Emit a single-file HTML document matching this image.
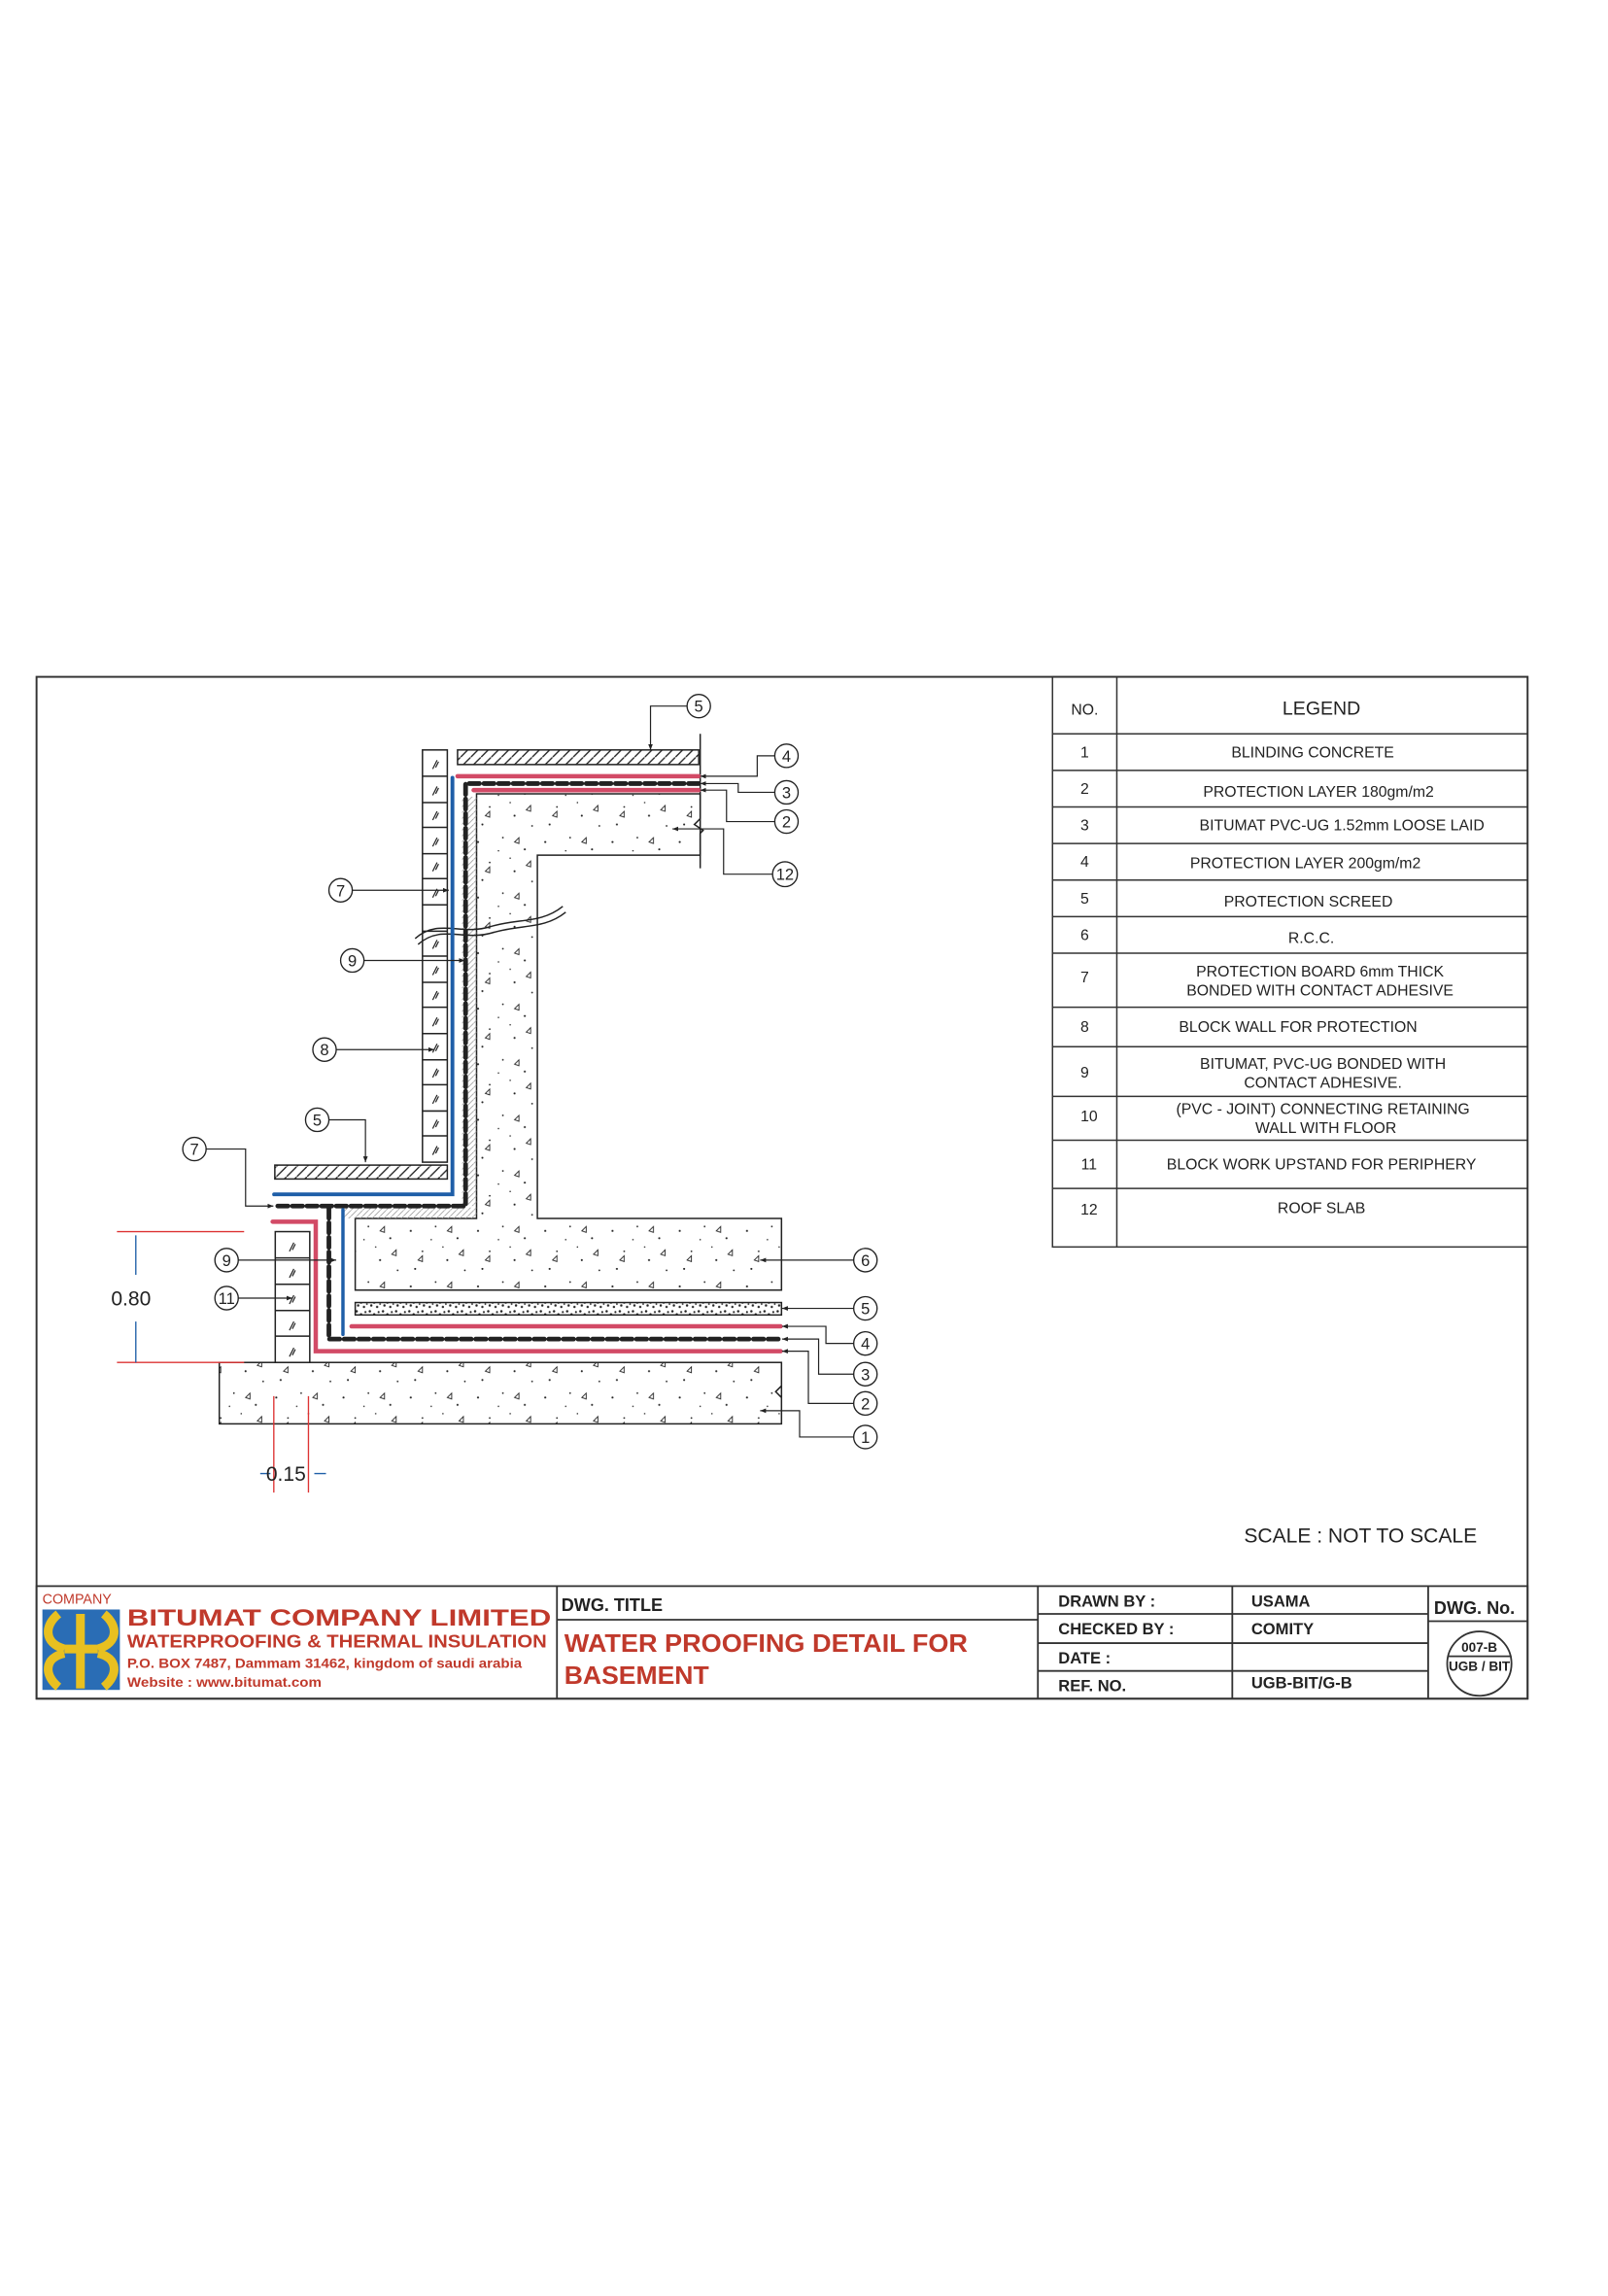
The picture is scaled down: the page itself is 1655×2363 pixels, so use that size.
<!DOCTYPE html>
<html><head><meta charset="utf-8"><style>
html,body{margin:0;padding:0;background:#fff;}
svg{display:block;}
text{font-family:"Liberation Sans",sans-serif;}
</style></head><body>
<svg width="1655" height="2363" viewBox="0 0 1100 1570.6" xmlns="http://www.w3.org/2000/svg">
<defs>
<pattern id="conc" width="46" height="38" patternUnits="userSpaceOnUse">
<circle cx="5" cy="6" r="0.7" fill="#222"/><circle cx="22" cy="3" r="0.6" fill="#222"/><circle cx="37" cy="11" r="0.7" fill="#222"/>
<circle cx="13" cy="20" r="0.6" fill="#222"/><circle cx="30" cy="26" r="0.7" fill="#222"/><circle cx="42" cy="33" r="0.6" fill="#222"/>
<circle cx="8" cy="32" r="0.7" fill="#222"/><circle cx="19" cy="12" r="0.5" fill="#222"/><circle cx="27" cy="17" r="0.5" fill="#222"/>
<path d="M30 6 l3 -3 l0 4z" fill="none" stroke="#222" stroke-width="0.6"/>
<path d="M10 26 l3 -3 l0 4z" fill="none" stroke="#222" stroke-width="0.6"/>
<path d="M38 22 l3 -3 l0 4z" fill="none" stroke="#222" stroke-width="0.6"/>
</pattern>
<pattern id="hatch" width="7" height="7" patternUnits="userSpaceOnUse">
<path d="M0 7 L7 0" stroke="#222" stroke-width="0.9"/>
</pattern>
<pattern id="hatchl" width="4" height="4" patternUnits="userSpaceOnUse">
<path d="M0 4 L4 0" stroke="#999" stroke-width="0.5"/>
</pattern>
<pattern id="grit" width="9" height="8" patternUnits="userSpaceOnUse">
<rect width="9" height="8" fill="#fff"/>
<circle cx="1" cy="1" r="0.8" fill="#222"/><circle cx="4" cy="3" r="0.8" fill="#222"/><circle cx="7" cy="1.5" r="0.7" fill="#222"/>
<circle cx="2" cy="5" r="0.8" fill="#222"/><circle cx="6" cy="6" r="0.8" fill="#222"/><circle cx="8" cy="4" r="0.6" fill="#222"/>
</pattern>
<marker id="ar" markerWidth="6" markerHeight="6" refX="5" refY="3" orient="auto"><path d="M0 1 L5 3 L0 5z" fill="#222"/></marker>
</defs>

<rect x="25" y="463" width="1020" height="699" fill="none" stroke="#333" stroke-width="1.3"/>

<g stroke="#222" stroke-width="1" fill="none">
<rect x="150" y="932" width="384.6" height="42" fill="url(#conc)"/>
<path d="M534.6 948 l-4 4 l4 4" />
<path d="M326 543 L479 543 L479 585 L367.6 585 L367.6 833.5 L534.6 833.5 L534.6 882.5 L243 882.5 L243 833.5 L326 833.5 Z" fill="url(#conc)"/>
<path d="M479 502 L479 560 l-4 4 l6 4 l-2 2 L479 594" />
<rect x="316" y="545" width="10" height="280" fill="url(#hatchl)" stroke="none"/>
<rect x="234" y="826" width="92" height="7.5" fill="url(#hatchl)" stroke="none"/>
<rect x="313" y="513" width="165" height="10" fill="url(#hatch)"/>
<rect x="188" y="797" width="118" height="9.5" fill="url(#hatch)"/>
<rect x="243" y="891" width="291.6" height="8.5" fill="url(#grit)"/>
<rect x="289" y="513" width="17" height="282" fill="#fff"/>
<path d="M289 531H306M289 549H306M289 566H306M289 584H306M289 601H306M289 619H306M289 637H306M289 654H306M289 672H306M289 689H306M289 707H306M289 725H306M289 742H306M289 760H306M289 777H306"/>
<g stroke-width="0.8">
<path d="M296 526l3-6M298 525l2-4"/><path d="M296 544l3-6M298 543l2-4"/><path d="M296 561l3-6M298 560l2-4"/>
<path d="M296 579l3-6M298 578l2-4"/><path d="M296 596l3-6M298 595l2-4"/><path d="M296 614l3-6M298 613l2-4"/>
<path d="M296 649l3-6M298 648l2-4"/><path d="M296 667l3-6M298 666l2-4"/><path d="M296 684l3-6M298 683l2-4"/>
<path d="M296 702l3-6M298 701l2-4"/><path d="M296 720l3-6M298 719l2-4"/><path d="M296 737l3-6M298 736l2-4"/>
<path d="M296 755l3-6M298 754l2-4"/><path d="M296 772l3-6M298 771l2-4"/><path d="M296 790l3-6M298 789l2-4"/>
</g>
<path d="M284 642 C300 628 315 640 335 634 C355 628 370 632 385 620" stroke-width="1"/>
<path d="M286 646 C302 632 317 644 337 638 C357 632 372 636 387 624" stroke-width="1"/>
<rect x="188.3" y="842.5" width="23.6" height="89.5" fill="#fff"/>
<path d="M188.3 860.5H212M188.3 878.5H212M188.3 896.5H212M188.3 914H212"/>
<g stroke-width="0.8">
<path d="M198 856l3-6M200 855l2-4"/><path d="M198 874l3-6M200 873l2-4"/><path d="M198 892l3-6M200 891l2-4"/><path d="M198 910l3-6M200 909l2-4"/><path d="M198 928l3-6M200 927l2-4"/>
</g>
</g>

<g fill="none" stroke-linecap="round">
<path d="M313 531 L478 531" stroke="#d24a66" stroke-width="3"/>
<path d="M324 540.5 L478 540.5" stroke="#d24a66" stroke-width="3"/>
<path d="M478 536 L318.5 536 L318.5 825 L187.5 825" stroke="#222" stroke-width="3.2" stroke-dasharray="7 3"/>
<path d="M309.5 532 L309.5 817 L187.5 817" stroke="#1f5fa8" stroke-width="2.6"/>
<path d="M186.5 835.7 L216 835.7 L216 924.3 L534 924.3" stroke="#d24a66" stroke-width="3"/>
<path d="M225 826.4 L225 916 L534 916" stroke="#222" stroke-width="3.2" stroke-dasharray="7 3"/>
<path d="M234.6 827.5 L234.6 912.8" stroke="#1f5fa8" stroke-width="2.3"/>
<path d="M240.5 907.3 L534 907.3" stroke="#d24a66" stroke-width="3"/>
</g>

<g fill="none">
<path d="M80 842.5H167M80 932H167" stroke="#d33" stroke-width="0.9"/>
<path d="M92.9 845V872M92.9 904V932" stroke="#1f5fa8" stroke-width="0.9"/>
<path d="M187.3 955V1021M211 955V1021" stroke="#d33" stroke-width="0.9"/>
<path d="M178 1008H185M215 1008H223" stroke="#1f5fa8" stroke-width="0.9"/>
</g>
<text x="76" y="893" font-size="14" fill="#222">0.80</text>
<text x="182" y="1013" font-size="14" fill="#222">0.15</text>

<g stroke="#222" stroke-width="0.8" fill="none">
<path d="M470 483 H445 V513" marker-end="url(#ar)"/>
<path d="M530 517 H518 V531 H479" marker-end="url(#ar)"/>
<path d="M530 542 H505 V536 H479" marker-end="url(#ar)"/>
<path d="M530 562 H497 V540.5 H479" marker-end="url(#ar)"/>
<path d="M529 598 H495 V567 H460" marker-end="url(#ar)"/>
<path d="M241 609 H307" marker-end="url(#ar)"/>
<path d="M249 657 H318" marker-end="url(#ar)"/>
<path d="M230 718 H297" marker-end="url(#ar)"/>
<path d="M225 766 H250 V795" marker-end="url(#ar)"/>
<path d="M141 786 H168 V825 H187" marker-end="url(#ar)"/>
<path d="M163 862 H230" marker-end="url(#ar)"/>
<path d="M163 888 H200" marker-end="url(#ar)"/>
<path d="M584 862 H520" marker-end="url(#ar)"/>
<path d="M584 895 H535" marker-end="url(#ar)"/>
<path d="M584 919 H565 V907.3 H535" marker-end="url(#ar)"/>
<path d="M584 940 H560 V916 H535" marker-end="url(#ar)"/>
<path d="M584 960 H553 V924.3 H535" marker-end="url(#ar)"/>
<path d="M584 983 H547 V965 H520" marker-end="url(#ar)"/>
</g>
<g font-size="11" fill="#222" text-anchor="middle" stroke="none">
<g stroke="#222" stroke-width="0.9" fill="#fff">
<circle cx="478" cy="483" r="8"/><circle cx="538" cy="517" r="8"/><circle cx="538" cy="542" r="8"/><circle cx="538" cy="562" r="8"/><circle cx="537" cy="598" r="8.5"/>
<circle cx="233" cy="609" r="8"/><circle cx="241" cy="657" r="8"/><circle cx="222" cy="718" r="8"/><circle cx="217" cy="766" r="8"/><circle cx="133" cy="786" r="8"/>
<circle cx="155" cy="862" r="8"/><circle cx="155" cy="888" r="8"/>
<circle cx="592" cy="862" r="8"/><circle cx="592" cy="895" r="8"/><circle cx="592" cy="919" r="8"/><circle cx="592" cy="940" r="8"/><circle cx="592" cy="960" r="8"/><circle cx="592" cy="983" r="8"/>
</g>
<text x="478" y="487">5</text><text x="538" y="521">4</text><text x="538" y="546">3</text><text x="538" y="566">2</text><text x="537" y="602">12</text>
<text x="233" y="613">7</text><text x="241" y="661">9</text><text x="222" y="722">8</text><text x="217" y="770">5</text><text x="133" y="790">7</text>
<text x="155" y="866">9</text><text x="155" y="892">11</text>
<text x="592" y="866">6</text><text x="592" y="899">5</text><text x="592" y="923">4</text><text x="592" y="944">3</text><text x="592" y="964">2</text><text x="592" y="987">1</text>
</g>

<g stroke="#333" stroke-width="1" fill="none">
<rect x="720" y="463" width="325" height="390"/>
<path d="M764 463V853"/>
<path d="M720 502H1045M720 527H1045M720 552H1045M720 577H1045M720 602H1045M720 627H1045M720 652H1045M720 689H1045M720 716H1045M720 750H1045M720 780H1045M720 813H1045"/>
</g>
<g font-size="10.5" fill="#222" text-anchor="middle">
<text x="742" y="489">NO.</text>
<text x="904" y="489" font-size="13">LEGEND</text>
<text x="742" y="518">1</text><text x="898" y="518">BLINDING CONCRETE</text>
<text x="742" y="543">2</text><text x="902" y="545">PROTECTION LAYER 180gm/m2</text>
<text x="742" y="568">3</text><text x="918" y="568">BITUMAT PVC-UG 1.52mm LOOSE LAID</text>
<text x="742" y="593">4</text><text x="893" y="594">PROTECTION LAYER 200gm/m2</text>
<text x="742" y="618">5</text><text x="895" y="620">PROTECTION SCREED</text>
<text x="742" y="643">6</text><text x="897" y="645">R.C.C.</text>
<text x="742" y="672">7</text><text x="903" y="668">PROTECTION BOARD 6mm THICK</text><text x="903" y="681">BONDED WITH CONTACT ADHESIVE</text>
<text x="742" y="706">8</text><text x="888" y="706">BLOCK WALL FOR PROTECTION</text>
<text x="742" y="737">9</text><text x="905" y="731">BITUMAT, PVC-UG BONDED WITH</text><text x="905" y="744">CONTACT ADHESIVE.</text>
<text x="745" y="767">10</text><text x="905" y="762">(PVC - JOINT) CONNECTING RETAINING</text><text x="907" y="775">WALL WITH FLOOR</text>
<text x="745" y="800">11</text><text x="904" y="800">BLOCK WORK UPSTAND FOR PERIPHERY</text>
<text x="745" y="831">12</text><text x="904" y="830">ROOF SLAB</text>
</g>

<text x="851" y="1055" font-size="14" fill="#222">SCALE : NOT TO SCALE</text>

<g stroke="#333" stroke-width="1.2" fill="none">
<rect x="25" y="1085" width="1020" height="77"/>
<path d="M381 1085V1162M710 1085V1162M843 1085V1162M977 1085V1162"/>
<path d="M381 1108H710M710 1104H977M710 1124H977M710 1143H977M977 1109H1045"/>
<circle cx="1012" cy="1138" r="22"/>
<path d="M990 1133H1034"/>
</g>
<text x="29" y="1097" font-size="9.5" fill="#c0392b">COMPANY</text>
<rect x="29" y="1101" width="53" height="55" fill="#2a6db5"/>
<g fill="none" stroke="#e8c020" stroke-width="6">
<path d="M40 1104 C30 1112 30 1124 44 1128 M71 1104 C81 1112 81 1124 67 1128 M44 1128 H67"/>
<path d="M40 1154 C30 1146 30 1134 44 1131 M71 1154 C81 1146 81 1134 67 1131"/>
<path d="M55 1104V1155"/>
</g>
<text x="87" y="1112" font-size="16" font-weight="bold" fill="#c0392b" textLength="290" lengthAdjust="spacingAndGlyphs">BITUMAT COMPANY LIMITED</text>
<text x="87" y="1127" font-size="12.5" font-weight="bold" fill="#c0392b" textLength="287" lengthAdjust="spacingAndGlyphs">WATERPROOFING &amp; THERMAL INSULATION</text>
<text x="87" y="1141" font-size="9" font-weight="bold" fill="#c0392b" textLength="270" lengthAdjust="spacingAndGlyphs">P.O. BOX 7487, Dammam 31462, kingdom of saudi arabia</text>
<text x="87" y="1154" font-size="9" font-weight="bold" fill="#c0392b" textLength="133" lengthAdjust="spacingAndGlyphs">Website : www.bitumat.com</text>
<text x="384" y="1102" font-size="12" font-weight="bold" fill="#222">DWG. TITLE</text>
<text x="386" y="1130" font-size="17" font-weight="bold" fill="#c0392b" textLength="276" lengthAdjust="spacingAndGlyphs">WATER PROOFING DETAIL FOR</text>
<text x="386" y="1152" font-size="17" font-weight="bold" fill="#c0392b" textLength="99" lengthAdjust="spacingAndGlyphs">BASEMENT</text>
<g font-size="11" font-weight="bold" fill="#222">
<text x="724" y="1099">DRAWN BY :</text><text x="856" y="1099">USAMA</text>
<text x="724" y="1118">CHECKED BY :</text><text x="856" y="1118">COMITY</text>
<text x="724" y="1138">DATE :</text>
<text x="724" y="1157">REF. NO.</text><text x="856" y="1155">UGB-BIT/G-B</text>
<text x="981" y="1104" font-size="12">DWG. No.</text>
<text x="1012" y="1130" font-size="9" text-anchor="middle">007-B</text>
<text x="1012" y="1143" font-size="9" text-anchor="middle">UGB / BIT</text>
</g>
</svg>
</body></html>
